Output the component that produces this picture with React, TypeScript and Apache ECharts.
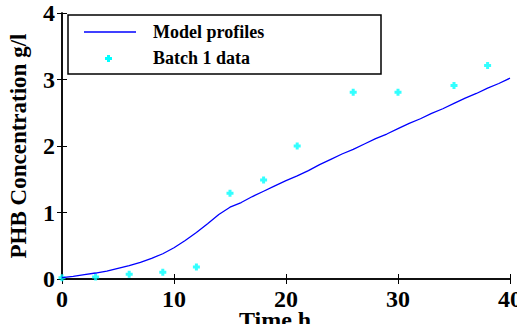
import React, { useEffect, useRef } from "react";
import * as echarts from "echarts";

const modelTime = [0,1,2,3,4,5,6,7,8,9,10,11,12,13,14,15,16,17,18,19,20,21,22,23,24,25,26,27,28,29,30,31,32,33,34,35,36,37,38,39,40];
const modelPHB = [0.02,0.04,0.065,0.09,0.12,0.16,0.2,0.25,0.31,0.38,0.47,0.58,0.7,0.83,0.97,1.08,1.15,1.24,1.32,1.4,1.48,1.55,1.63,1.72,1.8,1.88,1.95,2.03,2.11,2.18,2.26,2.34,2.41,2.49,2.56,2.64,2.72,2.79,2.87,2.94,3.02];

const batchTime = [0, 3, 6, 9, 12, 15, 18, 21, 26, 30, 35, 38];
const batchPHB = [0.02, 0.03, 0.07, 0.1, 0.18, 1.29, 1.49, 2.0, 2.81, 2.81, 2.91, 3.21];

const seriesNames = ["Model profiles", "Batch 1 data"];
const xTitle = "Time h";
const yTitle = "PHB Concentration g/l";

const plusPath = "path://M2,0 H5 V2 H7 V5 H5 V7 H2 V5 H0 V2 H2 Z";
const FONT = "'Liberation Serif', 'Times New Roman', serif";

export default function App() {
  const ref = useRef<HTMLDivElement>(null);
  useEffect(() => {
    if (!ref.current) return;
    const chart = echarts.init(ref.current, null, { renderer: "svg" });
    const labelStyle = { fontFamily: FONT, fontWeight: "bold" as const, fontSize: 24, lineHeight: 20, color: "#000" };
    const boxAxisCommon = {
      axisLine: { show: true, lineStyle: { color: "#000", width: 1.5 } },
      axisTick: { show: true, inside: true, length: 5, lineStyle: { color: "#000" } },
      splitLine: { show: false },
    };
    chart.setOption({
      animation: false,
      grid: { left: 62, right: 7, top: 13, bottom: 45, containLabel: false, outerBoundsMode: "none" },
      xAxis: [
        {
          type: "value", min: 0, max: 40, interval: 10,
          ...boxAxisCommon,
          axisLabel: { ...labelStyle, margin: 10 },
          name: xTitle, nameLocation: "middle", nameGap: 31, nameMoveOverlap: false,
          nameTextStyle: { fontFamily: FONT, fontWeight: "bold", fontSize: 24, lineHeight: 20, color: "#000", padding: [0, 22, 0, 0] },
        },
        {
          type: "value", min: 0, max: 40, interval: 10, position: "top",
          ...boxAxisCommon, axisLabel: { show: false },
        },
      ],
      yAxis: [
        {
          type: "value", min: 0, max: 4, interval: 1,
          ...boxAxisCommon,
          axisLabel: { ...labelStyle, margin: 7 },
          name: yTitle, nameLocation: "middle", nameGap: 32, nameMoveOverlap: false,
          nameTextStyle: { fontFamily: FONT, fontWeight: "bold", fontSize: 23, color: "#000" },
        },
        {
          type: "value", min: 0, max: 4, interval: 1, position: "right",
          ...boxAxisCommon, axisLabel: { show: false },
        },
      ],
      series: [
        {
          name: seriesNames[0],
          type: "line",
          data: modelTime.map((t, i) => [t, modelPHB[i]]),
          showSymbol: false,
          lineStyle: { color: "#0000FF", width: 1.3 },
        },
        {
          name: seriesNames[1],
          type: "scatter",
          data: batchTime.map((t, i) => [t, batchPHB[i]]),
          symbol: plusPath,
          symbolSize: 7,
          itemStyle: { color: "#00FFFF" },
        },
      ],
      graphic: [
        {
          type: "rect",
          shape: { x: 68, y: 15, width: 313, height: 59 },
          style: { fill: "#fff", stroke: "#000", lineWidth: 1.5 },
          z: 100,
        },
        {
          type: "line",
          shape: { x1: 84, y1: 32, x2: 136, y2: 32 },
          style: { stroke: "#0000FF", lineWidth: 1.3 },
          z: 101,
        },
        {
          type: "polygon",
          shape: { points: [[107, 55], [110, 55], [110, 57], [112, 57], [112, 60], [110, 60], [110, 62], [107, 62], [107, 60], [105, 60], [105, 57], [107, 57]] },
          style: { fill: "#00FFFF" },
          z: 101,
        },
        {
          type: "text", x: 153, y: 32,
          style: { text: seriesNames[0], fontFamily: FONT, fontWeight: "bold", fontSize: 18, fill: "#000", verticalAlign: "middle" },
          z: 101,
        },
        {
          type: "text", x: 153, y: 58,
          style: { text: seriesNames[1], fontFamily: FONT, fontWeight: "bold", fontSize: 18, fill: "#000", verticalAlign: "middle" },
          z: 101,
        },
      ],
    });
    return () => chart.dispose();
  }, []);
  return <div ref={ref} style={{ position: "fixed", left: 0, top: 0, width: 517, height: 324, background: "#fff" }} />;
}
